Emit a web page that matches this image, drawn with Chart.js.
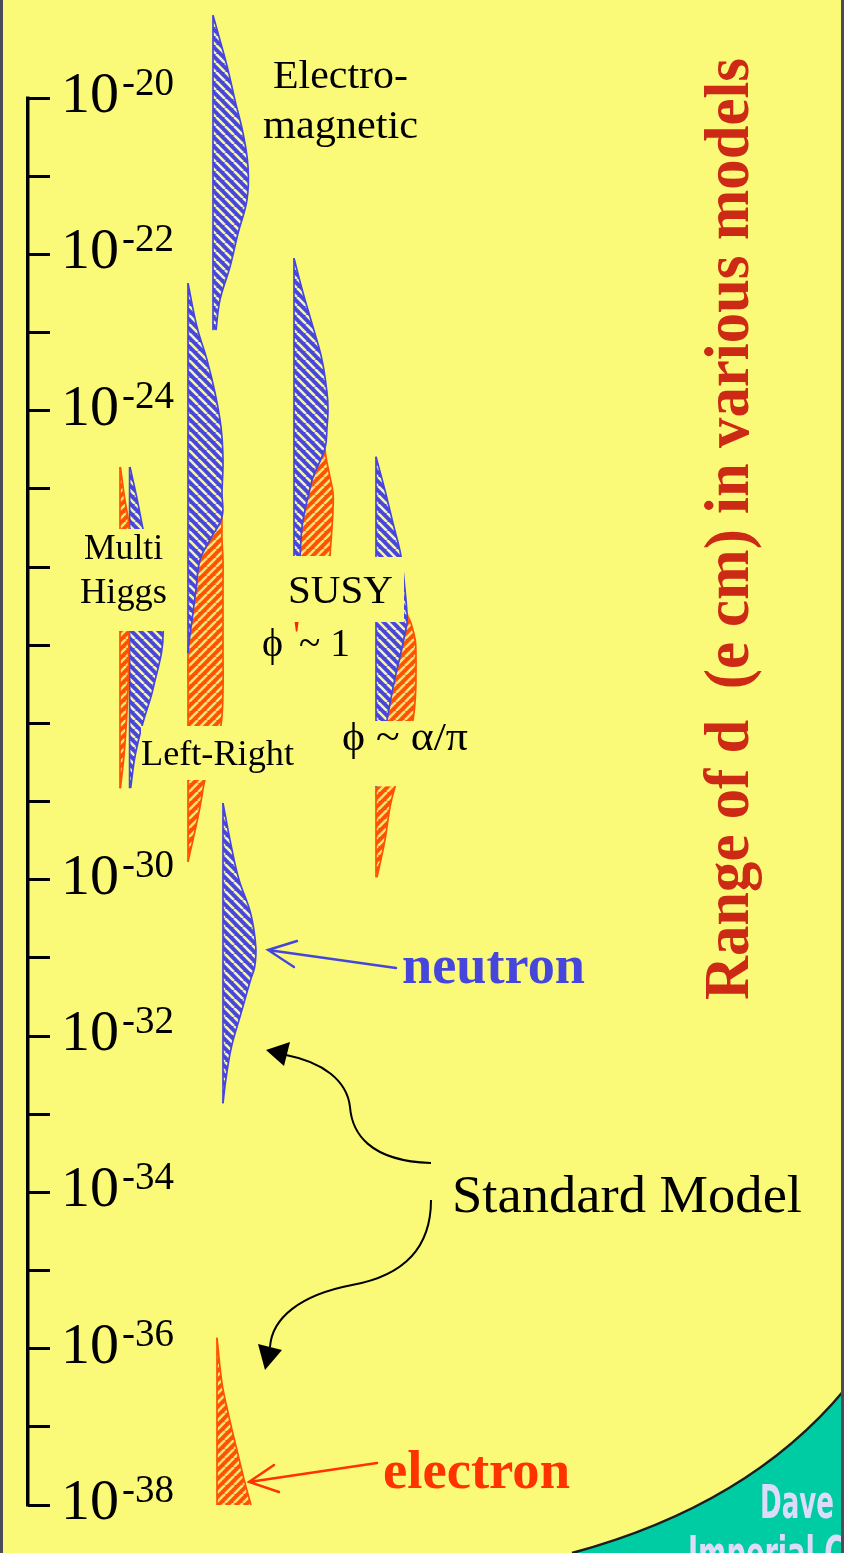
<!DOCTYPE html>
<html lang="en">
<head>
<meta charset="utf-8">
<title>Range of d (e cm) in various models</title>
<script src="https://cdn.jsdelivr.net/npm/chart.js"></script>
<style>
  html, body { margin: 0; padding: 0; background: #4c4c58; }
  #frame { position: relative; width: 844px; height: 1553px; }
</style>
</head>
<body>
<div id="frame"><canvas id="edm"></canvas></div>
<script>
// ---- axis: decades of the EDM, d (e cm) ----
const decadeExps = [-20, -21, -22, -23, -24, -25, -26, -27, -28, -29, -30, -31, -32, -33, -34, -35, -36, -37, -38];
const labelExps = [-20, -22, -24, -30, -32, -34, -36, -38];
const topExp = -18.746;
const bottomExp = -38.614;

// ---- model bands: log10(d) sampled down each band, widths in column units ----
// Electromagnetic
const emBase = 46.25;
const emExps = [-18.94, -19.26, -19.64, -20.03, -20.45, -20.88, -21.30, -21.73, -22.16, -22.58, -22.97];
const emNeutron = [0, 1.75, 3.75, 5.5, 7.5, 8.75, 8.5, 6.25, 4.25, 1.75, 0.75];

// Left-Right
const lrBase = 40;
const lrExps = [-22.37, -22.93, -23.35, -23.77, -24.21, -24.63, -25.05, -25.36, -25.65, -25.91, -26.29, -26.68, -27.10, -27.57, -28.02, -28.34, -28.72, -29.07, -29.49, -29.77];
const lrNeutron = [0, 2.25, 4.75, 6.75, 8.25, 8.75, 8.5, 8.5, 5.5, 3, 2, 1, 0, 0, 0, 0, 0, 0, 0, 0];
const lrElectron = [0, 0, 0, 0, 0, 0, 0, 0, 3, 5.75, 6.75, 7.75, 8.75, 8.75, 8.25, 6.5, 4.25, 3, 1.25, 0];

// SUSY, phi' ~ 1
const susyBase = 66.5;
const susyExps = [-22.05, -22.49, -22.93, -23.35, -23.77, -23.99, -24.21, -24.48, -24.85, -25.05, -25.27, -25.49, -25.86];
const susyNeutron = [0, 2.25, 4.75, 7, 8.25, 8.5, 8.25, 7.75, 4.75, 3.75, 2.75, 2, 1.5];
const susyElectron = [0, 0, 0, 0, 0, 0, 0, 0, 4.25, 6, 7, 7.5, 7.5];

// SUSY, phi ~ alpha/pi
const alphaBase = 87;
const alphaExps = [-24.59, -25.02, -25.44, -25.86, -26.29, -26.59, -26.72, -26.93, -27.15, -27.36, -27.61, -27.96, -28.41, -28.81, -29.07, -29.49, -29.97];
const alphaNeutron = [0, 2.25, 4.25, 6.25, 7.25, 7.75, 7.75, 6.9, 6, 5, 4, 2.75, 1.25, 0, 0, 0, 0];
const alphaElectron = [0, 0, 0, 0, 0, 0, 1, 2.9, 4, 5, 5.9, 6.5, 6, 4.75, 3.5, 2.25, 0.25];

// Multi Higgs
const higgsElectronBase = 23;
const higgsNeutronBase = 25.4;
const higgsExps = [-24.72, -25.10, -25.49, -26.17, -26.83, -27.55, -27.98, -28.41, -28.83];
const higgsElectron = [0.1, 1.1, 2.25, 2.4, 2.25, 2, 1.6, 1, 0.1];
const higgsNeutron = [0.1, 1.75, 3.25, 6, 8.4, 5.9, 3.4, 1.4, 0.25];

// Standard Model
const smNeutronBase = 48.75;
const smNeutronExps = [-29.02, -29.58, -30.00, -30.43, -30.86, -31.12, -31.28, -31.71, -32.14, -32.56, -32.86];
const smNeutron = [0, 2.1, 4, 6.9, 8.2, 7.9, 6.9, 4.5, 2.1, 0.7, 0];
const smElectronBase = 47.25;
const smElectronExps = [-35.86, -36.44, -36.87, -37.30, -37.72, -38.00];
const smElectron = [0, 1.25, 3, 5, 7, 8.5];

const paper = '#FAFA78';
const blueInk = '#4646DC';
const orangeInk = '#FF5200';
const none = 'rgba(0,0,0,0)';
const serif = '"Liberation Serif", "Times New Roman", serif';

const canvas = document.getElementById('edm');
const ctx2d = canvas.getContext('2d');

// diagonal hatching like the slide's fills
function hatch(base, stripe, rising) {
  const p = 9;
  const tile = document.createElement('canvas');
  tile.width = p; tile.height = p;
  const g = tile.getContext('2d');
  g.fillStyle = base;
  g.fillRect(0, 0, p, p);
  g.strokeStyle = stripe;
  g.lineWidth = 2.6;
  g.beginPath();
  for (const k of [-p, 0, p]) {
    if (rising) { g.moveTo(k, p); g.lineTo(k + p, 0); }
    else { g.moveTo(k, 0); g.lineTo(k + p, p); }
  }
  g.stroke();
  return ctx2d.createPattern(tile, 'repeat');
}
const bluePat = hatch(blueInk, '#F4F2B4', false);
const orangePat = hatch(orangeInk, '#F6E27A', true);

const datasets = [];
const has = (w, a, b) => !!w && (w[a] > 0 || w[b] > 0);

function edgeLine(exps, xs, filled, pattern, inkAt) {
  datasets.push({
    data: exps.map((e, i) => ({ x: xs[i], y: Math.pow(10, e) })),
    fill: filled ? '-1' : false,
    backgroundColor: pattern || none,
    borderColor: none,
    borderWidth: 1.7,
    pointRadius: 0,
    tension: 0.4,
    segment: { borderColor: c => inkAt(c.p0DataIndex, c.p1DataIndex) }
  });
}

// one column: inner band from the base line, optional outer band stacked on it
function band(exps, base, inner, innerInk, innerPat, outer, outerInk, outerPat) {
  const left = exps.map(() => base);
  const mid = exps.map((_, i) => base + inner[i]);
  edgeLine(exps, left, false, null, (a, b) => has(inner, a, b) ? innerInk : has(outer, a, b) ? outerInk : none);
  edgeLine(exps, mid, true, innerPat, (a, b) => has(inner, a, b) ? innerInk : none);
  if (outer) {
    const right = exps.map((_, i) => base + inner[i] + outer[i]);
    edgeLine(exps, right, true, outerPat, (a, b) => has(outer, a, b) ? outerInk : none);
  }
}

band(emExps, emBase, emNeutron, blueInk, bluePat);
band(lrExps, lrBase, lrNeutron, blueInk, bluePat, lrElectron, orangeInk, orangePat);
band(susyExps, susyBase, susyNeutron, blueInk, bluePat, susyElectron, orangeInk, orangePat);
band(alphaExps, alphaBase, alphaNeutron, blueInk, bluePat, alphaElectron, orangeInk, orangePat);
band(higgsExps, higgsElectronBase, higgsElectron, orangeInk, orangePat);
band(higgsExps, higgsNeutronBase, higgsNeutron, blueInk, bluePat);
band(smNeutronExps, smNeutronBase, smNeutron, blueInk, bluePat);
band(smElectronExps, smElectronBase, smElectron, orangeInk, orangePat);

function fitText(c, text, x, y, width, font, color) {
  c.save();
  c.font = font;
  c.fillStyle = color;
  c.textAlign = 'left';
  c.textBaseline = 'alphabetic';
  const w = c.measureText(text).width;
  c.translate(x, y);
  c.scale(width / w, 1);
  c.fillText(text, 0, 0);
  c.restore();
}

function openArrow(c, from, tip, w1, w2, color) {
  c.save();
  c.strokeStyle = color;
  c.lineWidth = 2.4;
  c.lineCap = 'round';
  c.beginPath();
  c.moveTo(from[0], from[1]); c.lineTo(tip[0], tip[1]);
  c.moveTo(w1[0], w1[1]); c.lineTo(tip[0], tip[1]); c.lineTo(w2[0], w2[1]);
  c.stroke();
  c.restore();
}

const overlay = {
  id: 'overlay',
  beforeDraw(chart) {
    const c = chart.ctx;
    c.save();
    c.fillStyle = paper;
    c.fillRect(0, 0, chart.width, chart.height);
    c.restore();
  },
  afterDatasetsDraw(chart) {
    const c = chart.ctx;
    const yS = chart.scales.y;
    c.save();

    // label backings that cut across the bands
    c.fillStyle = paper;
    [[78, 529, 94, 102], [283, 557, 121, 65], [141, 726, 160, 54], [337, 721, 135, 65]]
      .forEach(r => c.fillRect(r[0], r[1], r[2], r[3]));

    // axis spine
    const yTop = yS.getPixelForValue(Math.pow(10, decadeExps[0]));
    const yBot = yS.getPixelForValue(Math.pow(10, decadeExps[decadeExps.length - 1]));
    c.fillStyle = '#000';
    c.fillRect(26, yTop - 1.5, 3.5, yBot - yTop + 3);

    // 10^n labels
    c.textAlign = 'left';
    c.textBaseline = 'alphabetic';
    labelExps.forEach(e => {
      const y = yS.getPixelForValue(Math.pow(10, e)) + 14;
      c.font = '58px ' + serif;
      c.fillText('10', 61, y);
      const w = c.measureText('10').width;
      c.font = '39px ' + serif;
      c.fillText('-' + Math.abs(e), 61 + w + 3, y - 17);
    });

    // model labels
    fitText(c, 'Electro-', 273, 88, 135, '40px ' + serif, '#000');
    fitText(c, 'magnetic', 263, 138, 155, '40px ' + serif, '#000');
    fitText(c, 'Multi', 84, 559, 79, '35px ' + serif, '#000');
    fitText(c, 'Higgs', 80, 603, 87, '35px ' + serif, '#000');
    fitText(c, 'SUSY', 288, 603, 105, '40px ' + serif, '#000');
    fitText(c, 'Left-Right', 141, 765, 153, '36px ' + serif, '#000');
    fitText(c, '\u03D5 ~ \u03B1/\u03C0', 342, 750, 126, '39px ' + serif, '#000');
    c.font = '40px ' + serif;
    c.fillStyle = '#000';
    c.fillText('\u03D5', 262, 656);
    c.fillStyle = '#FF2200';
    c.fillText("'", 293, 648);
    fitText(c, '~ 1', 299, 656, 51, '39px ' + serif, '#000');

    // particle labels and pointers
    fitText(c, 'neutron', 402, 983, 183, 'bold 54px ' + serif, blueInk);
    openArrow(c, [396, 968], [268, 950], [297, 941], [294, 967], blueInk);
    fitText(c, 'electron', 383, 1488, 187, 'bold 54px ' + serif, '#FF3300');
    openArrow(c, [377, 1463], [249, 1482], [274, 1465], [279, 1492], '#FF3300');

    // Standard Model callout
    fitText(c, 'Standard Model', 452, 1212, 350, '52px ' + serif, '#000');
    c.strokeStyle = '#000';
    c.fillStyle = '#000';
    c.lineWidth = 2;
    c.beginPath();
    c.moveTo(431, 1163);
    c.bezierCurveTo(368, 1161, 352, 1132, 350, 1107);
    c.bezierCurveTo(347, 1080, 322, 1062, 286, 1055);
    c.stroke();
    c.beginPath();
    c.moveTo(266, 1050); c.lineTo(290, 1042); c.lineTo(284, 1066); c.closePath();
    c.fill();
    c.beginPath();
    c.moveTo(431, 1200);
    c.bezierCurveTo(431, 1250, 402, 1276, 352, 1285);
    c.bezierCurveTo(300, 1295, 272, 1318, 270, 1347);
    c.stroke();
    c.beginPath();
    c.moveTo(265, 1370); c.lineTo(258, 1344); c.lineTo(282, 1350); c.closePath();
    c.fill();

    // rotated axis title
    c.save();
    c.translate(748, 1000);
    c.rotate(-Math.PI / 2);
    fitText(c, 'Range of d  (e cm) in various models', 0, 0, 942, 'bold 64px ' + serif, '#CC2A14');
    c.restore();

    c.restore();
  },
  afterDraw(chart) {
    const c = chart.ctx;
    c.save();
    // slide corner
    c.beginPath();
    c.moveTo(572, 1553);
    c.quadraticCurveTo(750, 1505, 846, 1388);
    c.lineTo(846, 1553);
    c.closePath();
    c.fillStyle = '#00CCA3';
    c.fill();
    c.beginPath();
    c.moveTo(572, 1553);
    c.quadraticCurveTo(750, 1505, 846, 1388);
    c.strokeStyle = '#1c1c1c';
    c.lineWidth = 2.5;
    c.stroke();
    const sans = '"DejaVu Sans Condensed", "DejaVu Sans", sans-serif';
    fitText(c, 'Dave', 760, 1518, 74, 'bold 46px ' + sans, '#DCDCFA');
    fitText(c, 'Imperial College', 688, 1569, 250, 'bold 46px ' + sans, '#DCDCFA');
    // slide edges
    c.fillStyle = '#4c4c58';
    c.fillRect(0, 0, 3, chart.height);
    c.fillRect(841, 0, 3, chart.height);
    c.restore();
  }
};

new Chart(ctx2d, {
  type: 'line',
  data: { datasets },
  options: {
    indexAxis: 'y',
    responsive: true,
    maintainAspectRatio: false,
    animation: false,
    layout: { padding: 0 },
    plugins: {
      legend: { display: false },
      tooltip: { enabled: false }
    },
    scales: {
      x: { type: 'linear', min: 0, max: 204, display: false },
      y: {
        type: 'logarithmic',
        position: 'left',
        min: Math.pow(10, bottomExp),
        max: Math.pow(10, topExp),
        afterBuildTicks: s => { s.ticks = decadeExps.map(e => ({ value: Math.pow(10, e) })); },
        afterFit: s => { s.width = 28; },
        border: { display: false },
        grid: {
          drawOnChartArea: false,
          drawTicks: true,
          tickLength: -22,
          tickWidth: 3,
          tickColor: '#000',
          color: '#000',
          lineWidth: 3
        },
        ticks: { display: false }
      }
    }
  },
  plugins: [overlay]
});
</script>
</body>
</html>
